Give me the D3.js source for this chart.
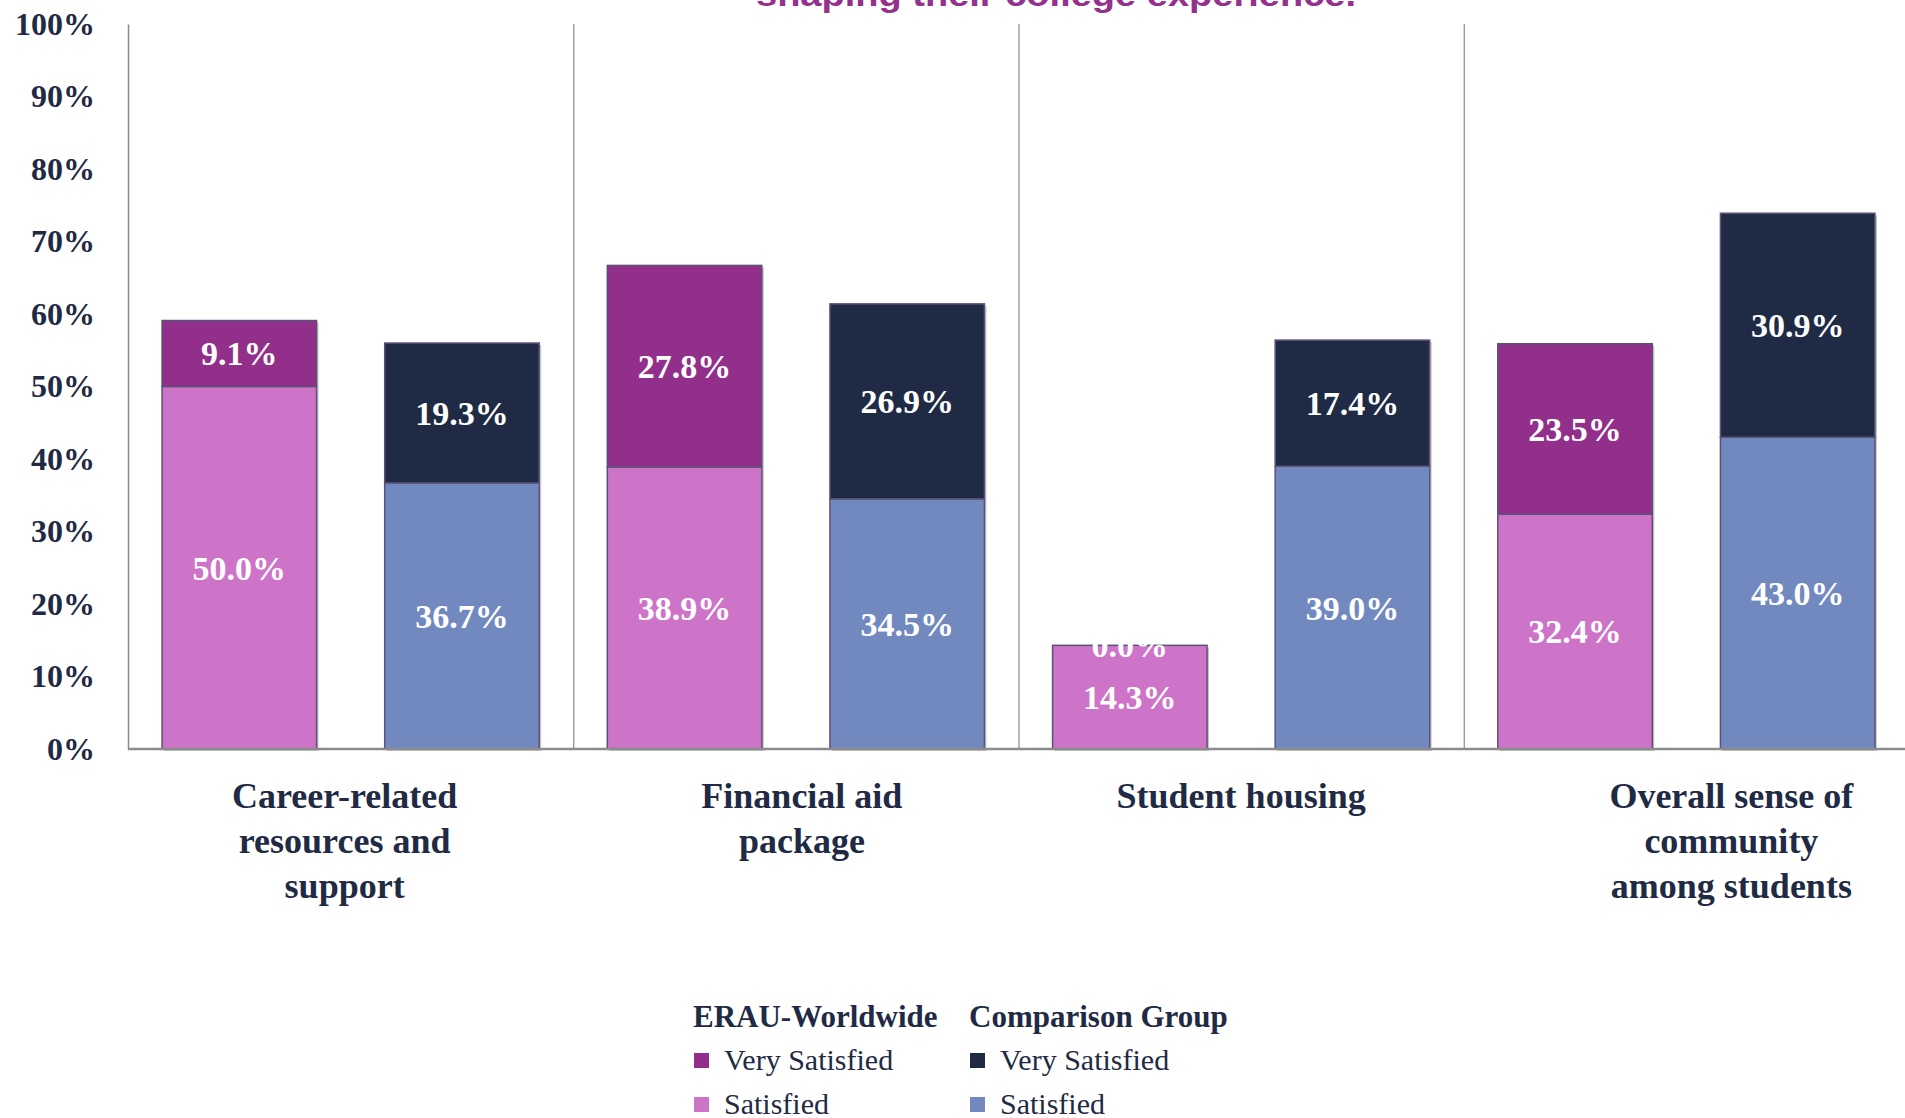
<!DOCTYPE html>
<html>
<head>
<meta charset="utf-8">
<script src="https://cdn.jsdelivr.net/npm/d3@7"></script>
<style>
  html, body { margin: 0; padding: 0; background: #fff; }
  svg { display: block; }
</style>
</head>
<body>
<svg width="1905" height="1118"></svg>
<script>
// chart data
var categories = ["Career-related resources and support", "Financial aid package", "Student housing", "Overall sense of community among students"];
var categoryLines = [["Career-related", "resources and", "support"], ["Financial aid", "package"], ["Student housing"], ["Overall sense of", "community", "among students"]];
var groups = ["ERAU-Worldwide", "Comparison Group"];
var levels = ["Satisfied", "Very Satisfied"];

var erauSatisfied = [50.0, 38.9, 14.3, 32.4];
var erauVerySatisfied = [9.1, 27.8, 0.0, 23.5];
var compSatisfied = [36.7, 34.5, 39.0, 43.0];
var compVerySatisfied = [19.3, 26.9, 17.4, 30.9];

var yTicks = [0, 0.1, 0.2, 0.3, 0.4, 0.5, 0.6, 0.7, 0.8, 0.9, 1.0];

var colors = {
  "ERAU-Worldwide": { "Satisfied": "#ce74c8", "Very Satisfied": "#922f8b" },
  "Comparison Group": { "Satisfied": "#7289c0", "Very Satisfied": "#1f2b45" }
};
var ink = "#1f2a44";

var svg = d3.select("svg");

var plotLeft = 128, plotRight = 1909, plotTop = 24, plotBottom = 749;

var y = d3.scaleLinear().domain([0, 1]).range([plotBottom, plotTop]);
var x0 = d3.scaleBand().domain(categories).range([plotLeft, plotRight]);
var x1 = d3.scaleBand().domain(groups).range([0, x0.bandwidth()])
    .paddingInner(0.306).paddingOuter(0.153);

// build stacked segments
var segs = [];
categories.forEach(function(c, i) {
  var vals = {
    "ERAU-Worldwide": [erauSatisfied[i], erauVerySatisfied[i]],
    "Comparison Group": [compSatisfied[i], compVerySatisfied[i]]
  };
  groups.forEach(function(g) {
    var base = 0;
    vals[g].forEach(function(v, k) {
      segs.push({ cat: c, group: g, level: levels[k], v: v, y0: base / 100, y1: (base + v) / 100 });
      base += v;
    });
  });
});

// title fragment (cut off at the top)
svg.append("text")
    .attr("x", 1056)
    .attr("y", 6)
    .attr("text-anchor", "middle")
    .attr("textLength", 600)
    .attr("lengthAdjust", "spacingAndGlyphs")
    .style("font-family", "'Liberation Sans Narrow', 'Liberation Sans', Arial, sans-serif")
    .style("font-weight", "bold")
    .style("font-size", "34px")
    .style("fill", "#93318d")
    .text("shaping their college experience.");

// category dividers
svg.selectAll(".divider")
  .data(categories.slice(1))
  .enter().append("line")
    .attr("class", "divider")
    .attr("x1", function(d) { return x0(d) + 0.5; })
    .attr("x2", function(d) { return x0(d) + 0.5; })
    .attr("y1", plotTop)
    .attr("y2", plotBottom)
    .style("stroke", "#8a8a8a")
    .style("stroke-width", 1.2);

var drawn = segs.filter(function(d) { return d.v > 0; });

// bar shadows
svg.selectAll(".shadow")
  .data(drawn)
  .enter().append("rect")
    .attr("class", "shadow")
    .attr("x", function(d) { return x0(d.cat) + x1(d.group) + 2; })
    .attr("y", function(d) { return y(d.y1) + 2; })
    .attr("width", x1.bandwidth())
    .attr("height", function(d) { return y(d.y0) - y(d.y1); })
    .style("fill", "#c4c4c8");

// bars
svg.selectAll(".seg")
  .data(drawn)
  .enter().append("rect")
    .attr("class", "seg")
    .attr("x", function(d) { return x0(d.cat) + x1(d.group); })
    .attr("y", function(d) { return y(d.y1); })
    .attr("width", x1.bandwidth())
    .attr("height", function(d) { return y(d.y0) - y(d.y1); })
    .style("fill", function(d) { return colors[d.group][d.level]; })
    .style("stroke", "#5c5278")
    .style("stroke-width", 1.5);

// value labels
svg.selectAll(".val")
  .data(segs)
  .enter().append("text")
    .attr("class", "val")
    .attr("x", function(d) { return x0(d.cat) + x1(d.group) + x1.bandwidth() / 2; })
    .attr("y", function(d) { return y((d.y0 + d.y1) / 2); })
    .attr("dy", "0.35em")
    .attr("text-anchor", "middle")
    .style("font-family", "'Liberation Serif', 'DejaVu Serif', serif")
    .style("font-weight", "bold")
    .style("font-size", "34px")
    .style("fill", "#ffffff")
    .text(function(d) { return d.v.toFixed(1) + "%"; });

// y axis
var yAxis = svg.append("g")
    .attr("transform", "translate(" + plotLeft + ",0)")
    .call(d3.axisLeft(y).tickValues(yTicks).tickFormat(d3.format(".0%")).tickSize(0).tickPadding(33));
yAxis.select(".domain").style("stroke", "#8a8a8a").style("stroke-width", 1.5);
yAxis.selectAll("text")
    .style("font-family", "'Liberation Serif', 'DejaVu Serif', serif")
    .style("font-weight", "bold")
    .style("font-size", "32px")
    .style("fill", ink);

// x axis baseline
svg.append("line")
    .attr("x1", plotLeft)
    .attr("x2", 1905)
    .attr("y1", y(0))
    .attr("y2", y(0))
    .style("stroke", "#8c8c8c")
    .style("stroke-width", 2.5);

// category labels (the last one sits a bit right of its band centre in the original)
var labelNudge = [-6, 6, 0, 45];
var catLabel = svg.selectAll(".cat")
  .data(categories)
  .enter().append("text")
    .attr("class", "cat")
    .attr("text-anchor", "middle")
    .style("font-family", "'Liberation Serif', 'DejaVu Serif', serif")
    .style("font-weight", "bold")
    .style("font-size", "36px")
    .style("fill", ink);

catLabel.each(function(d, i) {
  var t = d3.select(this);
  categoryLines[i].forEach(function(line, k) {
    t.append("tspan")
        .attr("x", x0(d) + x0.bandwidth() / 2 + labelNudge[i])
        .attr("y", 808 + k * 45)
        .text(line);
  });
});

// legend
var legendCols = [
  { group: "ERAU-Worldwide", x: 693 },
  { group: "Comparison Group", x: 969 }
];
var legend = svg.selectAll(".legend")
  .data(legendCols)
  .enter().append("g")
    .attr("class", "legend")
    .attr("transform", function(d) { return "translate(" + d.x + ",0)"; });

legend.append("text")
    .attr("x", 0)
    .attr("y", 1027)
    .style("font-family", "'Liberation Serif', 'DejaVu Serif', serif")
    .style("font-weight", "bold")
    .style("font-size", "31px")
    .style("fill", ink)
    .text(function(d) { return d.group; });

var legendRows = ["Very Satisfied", "Satisfied"];
legendRows.forEach(function(lv, k) {
  var base = 1070 + k * 44;
  legend.append("rect")
      .attr("x", 1)
      .attr("y", base - 17)
      .attr("width", 15)
      .attr("height", 15)
      .style("fill", function(d) { return colors[d.group][lv]; });
  legend.append("text")
      .attr("x", 31)
      .attr("y", base)
      .style("font-family", "'Liberation Serif', 'DejaVu Serif', serif")
      .style("font-size", "30px")
      .style("fill", ink)
      .text(lv);
});
</script>
</body>
</html>
